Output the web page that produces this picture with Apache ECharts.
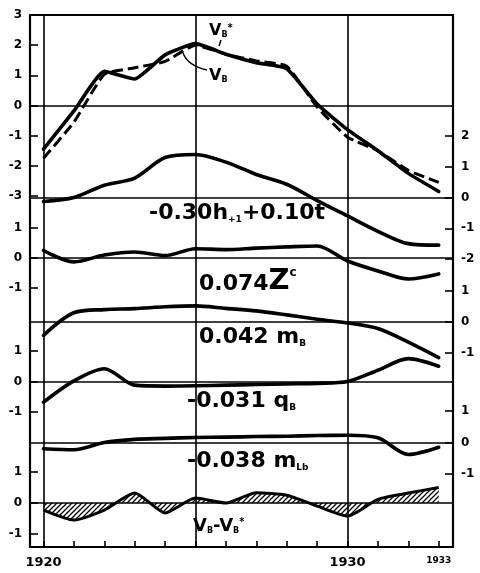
<!DOCTYPE html>
<html><head><meta charset="utf-8">
<script src="https://cdn.jsdelivr.net/npm/echarts@6/dist/echarts.min.js"></script>
<style>html,body{margin:0;padding:0;background:#fff}#c{width:480px;height:573px}</style>
</head><body><div id="c"></div>
<script>
// ---------------- data ----------------
const years = [1920,1921,1922,1923,1924,1925,1926,1927,1928,1929,1930,1931,1932,1933];
const vbStar  = [-1.45,-0.18, 1.13, 0.88, 1.68, 2.05, 1.70, 1.42, 1.22, 0.05,-0.80,-1.50,-2.25,-2.85];
const vb      = [-1.75,-0.55, 1.03, 1.25, 1.46, 2.00, 1.70, 1.48, 1.30,-0.05,-1.05,-1.50,-2.15,-2.55];
const hTerm   = [-0.13, 0.00, 0.40, 0.63, 1.30, 1.40, 1.15, 0.75, 0.43,-0.10,-0.60,-1.10,-1.50,-1.55];
const zTerm   = [ 0.25,-0.13, 0.10, 0.20, 0.08, 0.31, 0.28, 0.33, 0.37, 0.40,-0.10,-0.43,-0.70,-0.53];
const mBTerm  = [-0.43, 0.30, 0.40, 0.43, 0.49, 0.52, 0.44, 0.36, 0.23, 0.09,-0.03,-0.21,-0.65,-1.15];
const qBTerm  = [-0.68, 0.02, 0.42,-0.12,-0.15,-0.14,-0.12,-0.10,-0.08,-0.06, 0.00, 0.37, 0.75, 0.50];
const mLbTerm = [-0.20,-0.23, 0.00, 0.10, 0.13, 0.16, 0.17, 0.19, 0.20, 0.22, 0.23, 0.15,-0.38,-0.15];
const residual= [-0.23,-0.55,-0.23, 0.32,-0.32, 0.16, 0.00, 0.33, 0.25,-0.10,-0.42, 0.12, 0.32, 0.50];
const tickYears = years;
const labelYears = [1920, 1930, 1933];
const gridYears = [1920, 1925, 1930];
const ticksA = [-3, 3], ticksB = [-2, 2], ticksSmall = [-1, 1];

// ---------------- layout ----------------
const X_MIN = 1919.556, X_MAX = 1933.47;
const L = 30, R = 27;
const panels = [
  {top:15,  height:181, t:ticksA,     side:'left'},
  {top:136, height:123, t:ticksB,     side:'right'},
  {top:228, height:60,  t:ticksSmall, side:'left'},
  {top:291, height:62,  t:ticksSmall, side:'right'},
  {top:351, height:61,  t:ticksSmall, side:'left'},
  {top:411, height:63,  t:ticksSmall, side:'right'},
  {top:472, height:62,  t:ticksSmall, side:'left'}
];
const pair = arr => years.map((y,i)=>[y, arr[i]]);
const FONT = 'DejaVu Sans';

function hatch(){
  const c=document.createElement('canvas'); c.width=c.height=5;
  const g=c.getContext('2d'); g.strokeStyle='#000'; g.lineWidth=1.3;
  g.beginPath(); g.moveTo(0,5); g.lineTo(5,0); g.moveTo(-1,1); g.lineTo(1,-1); g.moveTo(4,6); g.lineTo(6,4); g.stroke();
  return c;
}

const grid=[], xAxis=[], yAxis=[], series=[];
panels.forEach((p,i)=>{
  grid.push({left:L, right:R, top:p.top, height:p.height});
  xAxis.push({type:'value', gridIndex:i, min:X_MIN, max:X_MAX,
    axisLine:{show:true, onZero:true, lineStyle:{color:'#000', width:1.6}},
    axisTick:{show:false}, axisLabel:{show:false}, splitLine:{show:false}});
  yAxis.push({type:'value', gridIndex:i, position:p.side, min:p.t[0], max:p.t[1], interval:1,
    axisLine:{show:false}, splitLine:{show:false},
    axisTick:{show:true, inside:true, length:8, lineStyle:{color:'#000', width:1.6}},
    axisLabel:{margin:8, color:'#000', fontFamily:FONT, fontWeight:'bold', fontSize:12}});
});
// frame grid
grid.push({left:L, right:R, top:15, bottom:26, show:true, borderColor:'#000', borderWidth:2.2, backgroundColor:'transparent'});
xAxis.push({type:'value', gridIndex:7, min:X_MIN, max:X_MAX, position:'bottom',
  axisLine:{show:false}, splitLine:{show:false},
  axisTick:{show:true, inside:true, length:6, customValues:tickYears, lineStyle:{color:'#000', width:1.6}},
  axisLabel:{show:true, customValues:labelYears, margin:9, color:'#000',
    formatter:v => v===1933 ? '{s|'+v+'}' : '{b|'+v+'}',
    rich:{b:{fontFamily:FONT, fontWeight:'bold', fontSize:13, color:'#000'},
          s:{fontFamily:FONT, fontWeight:'bold', fontSize:9, color:'#000'}}}});
yAxis.push({type:'value', gridIndex:7, min:0, max:1, show:false});

series.push({type:'line', xAxisIndex:7, yAxisIndex:7, data:[], silent:true,
  markLine:{symbol:'none', silent:true, label:{show:false},
    lineStyle:{color:'#000', width:1.6, type:'solid'},
    data: gridYears.map(y=>({xAxis:y}))}});

const lineBase = {type:'line', symbol:'none', clip:false, silent:true, smooth:0.3,
  lineStyle:{color:'#000', width:3.6, cap:'round', join:'round'}};
// panel A
series.push(Object.assign({}, lineBase, {xAxisIndex:0, yAxisIndex:0, data:pair(vbStar), smooth:0.15}));
series.push(Object.assign({}, lineBase, {xAxisIndex:0, yAxisIndex:0, data:pair(vb), smooth:0.15,
  lineStyle:{color:'#000', width:3, type:[11,5]}}));
[hTerm, zTerm, mBTerm, qBTerm, mLbTerm].forEach((arr,k)=>{
  series.push(Object.assign({}, lineBase, {xAxisIndex:k+1, yAxisIndex:k+1, data:pair(arr)}));
});
series.push(Object.assign({}, lineBase, {xAxisIndex:6, yAxisIndex:6, data:pair(residual), smooth:0.2,
  lineStyle:{color:'#000', width:3},
  areaStyle:{color:{image:hatch(), repeat:'repeat'}, opacity:1}}));

// ---------------- labels ----------------
const M = (s)=>({fontFamily:FONT, fontWeight:'bold', fontSize:s, color:'#000', verticalAlign:'bottom'});
function txt(x,y,text,rich){
  return {type:'text', x:x, y:y, silent:true, style:{text:text, rich:rich, verticalAlign:'middle', align:'left', fill:'#000'}};
}
const sub = (s)=>({fontFamily:FONT, fontWeight:'bold', fontSize:s, color:'#000', verticalAlign:'bottom'});
const sup = (s)=>({fontFamily:FONT, fontWeight:'bold', fontSize:s, color:'#000', verticalAlign:'top'});

const graphic = [
  txt(149,213,'{m|-0.30h}{s|+1}{m|+0.10t}', {m:M(22), s:sub(9)}),
  txt(199,281,'{m|0.074}{z|Z}{p|c}', {m:M(22), z:M(29), p:sup(12)}),
  txt(199,337,'{m|0.042 m}{s|B}', {m:M(22), s:sub(9)}),
  txt(187,401,'{m|-0.031 q}{s|B}', {m:M(22), s:sub(9)}),
  txt(187,461,'{m|-0.038 m}{s|Lb}', {m:M(22), s:sub(9)}),
  txt(193,526,'{m|V}{s|B}{m|-V}{s|B}{p|*}', {m:M(18), s:sub(8), p:sup(10)}),
  txt(209,31,'{m|V}{s|B}{p|*}', {m:M(16), s:sub(8), p:sup(10)}),
  txt(209,76,'{m|V}{s|B}', {m:M(16), s:sub(8)}),
  {type:'polyline', silent:true, shape:{points:[[221,40],[219,46]]}, style:{stroke:'#000', lineWidth:1.5}},
  {type:'bezierCurve', silent:true, shape:{x1:183,y1:53,x2:207,y2:70,cpx1:188,cpy1:66}, style:{stroke:'#000', lineWidth:1.5, fill:null}}
];

const chart = echarts.init(document.getElementById('c'), null, {renderer:'canvas'});
chart.setOption({animation:false, backgroundColor:'#fff', grid, xAxis, yAxis, series, graphic});
</script>
</body></html>
